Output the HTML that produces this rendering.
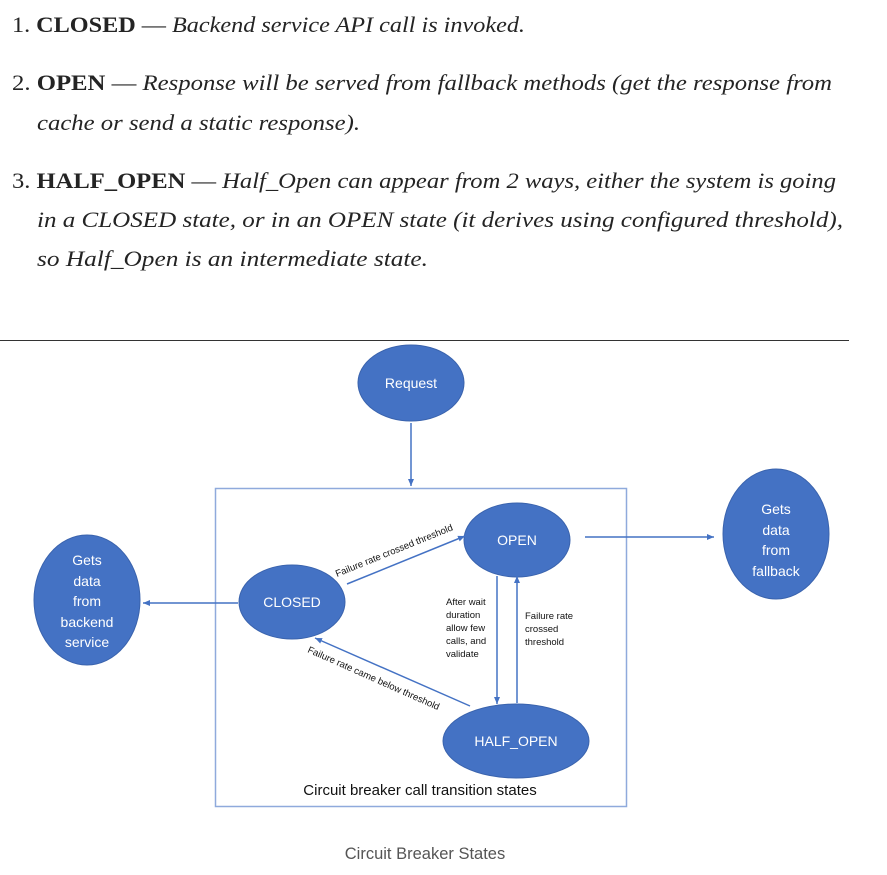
<!DOCTYPE html>
<html><head><meta charset="utf-8"><style>
html,body{margin:0;padding:0;background:#fff;width:887px;height:875px;overflow:hidden}
</style></head><body>
<svg width="887" height="875" viewBox="0 0 887 875" xmlns="http://www.w3.org/2000/svg">
<defs><marker id="a" markerWidth="8" markerHeight="8" refX="7" refY="4" orient="auto" markerUnits="userSpaceOnUse"><path d="M0,1 L7,4 L0,7 z" fill="#4472c4"/></marker></defs>
<g font-family="Liberation Serif, serif" font-size="22.5" fill="#242424">
<text x="12" y="32" textLength="513" lengthAdjust="spacingAndGlyphs">1. <tspan font-weight="bold">CLOSED</tspan> — <tspan font-style="italic">Backend service API call is invoked.</tspan></text>
<text x="12" y="90" textLength="820" lengthAdjust="spacingAndGlyphs">2. <tspan font-weight="bold">OPEN</tspan> — <tspan font-style="italic">Response will be served from fallback methods (get the response from</tspan></text>
<text x="37" y="130" font-style="italic" textLength="323" lengthAdjust="spacingAndGlyphs">cache or send a static response).</text>
<text x="12" y="188" textLength="824" lengthAdjust="spacingAndGlyphs">3. <tspan font-weight="bold">HALF_OPEN</tspan> — <tspan font-style="italic">Half_Open can appear from 2 ways, either the system is going</tspan></text>
<text x="37" y="227" font-style="italic" textLength="806" lengthAdjust="spacingAndGlyphs">in a CLOSED state, or in an OPEN state (it derives using configured threshold),</text>
<text x="37" y="266" font-style="italic" textLength="391" lengthAdjust="spacingAndGlyphs">so Half_Open is an intermediate state.</text>
</g>
<line x1="0" y1="340.5" x2="849" y2="340.5" stroke="#333" stroke-width="1"/>
<rect x="215.5" y="488.5" width="411" height="318" fill="none" stroke="#8faadc" stroke-width="1.5"/>
<g fill="#4472c4" stroke="#3a63ad" stroke-width="1">
<ellipse cx="411" cy="383" rx="53" ry="38"/>
<ellipse cx="517" cy="540" rx="53" ry="37"/>
<ellipse cx="292" cy="602" rx="53" ry="37"/>
<ellipse cx="516" cy="741" rx="73" ry="37"/>
<ellipse cx="87" cy="600" rx="53" ry="65"/>
<ellipse cx="776" cy="534" rx="53" ry="65"/>
</g>
<g stroke="#4472c4" stroke-width="1.5" fill="none" marker-end="url(#a)">
<line x1="411" y1="423" x2="411" y2="486"/>
<line x1="585" y1="537" x2="714" y2="537"/>
<line x1="238" y1="603" x2="143" y2="603"/>
<line x1="347" y1="584" x2="465" y2="536"/>
<line x1="470" y1="706" x2="315" y2="638"/>
<line x1="497" y1="576" x2="497" y2="704"/>
<line x1="517" y1="703" x2="517" y2="576"/>
</g>
<g font-family="Liberation Sans, sans-serif" fill="#fff" text-anchor="middle" font-size="14">
<text x="411" y="388">Request</text>
<text x="517" y="545">OPEN</text>
<text x="292" y="607">CLOSED</text>
<text x="516" y="746">HALF_OPEN</text>
<text x="87" y="565">Gets</text><text x="87" y="586">data</text><text x="87" y="606">from</text><text x="87" y="627">backend</text><text x="87" y="647">service</text>
<text x="776" y="514">Gets</text><text x="776" y="535">data</text><text x="776" y="555">from</text><text x="776" y="576">fallback</text>
</g>
<g font-family="Liberation Sans, sans-serif" fill="#111" font-size="9.5">
<text transform="translate(337,577) rotate(-22)">Failure rate crossed threshold</text>
<text transform="translate(307,652) rotate(24)">Failure rate came below threshold</text>
<text x="446" y="605">After wait</text><text x="446" y="618">duration</text><text x="446" y="631">allow few</text><text x="446" y="644">calls, and</text><text x="446" y="657">validate</text>
<text x="525" y="619">Failure rate</text><text x="525" y="632">crossed</text><text x="525" y="645">threshold</text>
</g>
<text x="420" y="795" text-anchor="middle" font-family="Liberation Sans, sans-serif" font-size="15" fill="#111">Circuit breaker call transition states</text>
<text x="425" y="859" text-anchor="middle" font-family="Liberation Sans, sans-serif" font-size="16.5" fill="#555">Circuit Breaker States</text>
</svg>
</body></html>
